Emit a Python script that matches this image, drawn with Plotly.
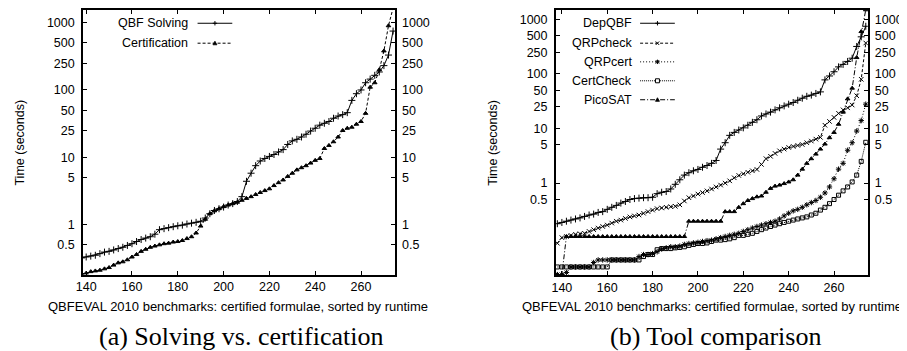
import plotly.graph_objects as go

# ---------------- data ----------------
x_bench = [138, 140, 142, 144, 146, 148, 150, 152, 154, 156,
           158, 160, 162, 164, 166, 168, 170, 172, 174, 176,
           178, 180, 182, 184, 186, 188, 190, 192, 194, 196,
           198, 200, 202, 204, 206, 208, 210, 212, 214, 216,
           218, 220, 222, 224, 226, 228, 230, 232, 234, 236,
           238, 240, 242, 244, 246, 248, 250, 252, 254, 256,
           258, 260, 262, 264, 266, 268, 270, 272, 274]

qbf_solving = [0.32, 0.33, 0.34, 0.35, 0.37, 0.39, 0.40, 0.42, 0.44, 0.46,
               0.49, 0.52, 0.56, 0.60, 0.63, 0.66, 0.72, 0.84, 0.87, 0.90,
               0.93, 0.96, 0.98, 1.02, 1.05, 1.08, 1.12, 1.25, 1.45, 1.62,
               1.72, 1.82, 1.95, 2.05, 2.2, 2.6, 4.4, 5.8, 7.5, 8.8,
               9.6, 10.3, 11.0, 12.0, 13.0, 15.5, 17.5, 18.5, 20, 22,
               24.5, 27, 30, 32, 34, 38, 41, 43, 46, 70,
               88, 100, 128, 145, 165, 185, 230, 330, 750]

certification = [0.185, 0.19, 0.20, 0.205, 0.21, 0.22, 0.23, 0.25, 0.27, 0.28,
                 0.30, 0.33, 0.36, 0.40, 0.43, 0.46, 0.48, 0.50, 0.52, 0.53,
                 0.55, 0.56, 0.58, 0.62, 0.66, 0.75, 0.95, 1.2, 1.45, 1.6,
                 1.72, 1.85, 1.95, 2.05, 2.15, 2.3, 2.45, 2.6, 2.8, 3.0,
                 3.2, 3.4, 3.8, 4.2, 4.6, 5.2, 5.8, 6.5, 7.0, 7.5,
                 8.2, 9.0, 9.6, 13.5, 15, 17, 20, 25, 27, 28,
                 31, 34, 45, 110, 128, 200, 380, 900, 1650]

depqbf = [0.18, 0.19, 0.20, 0.21, 0.22, 0.23, 0.245, 0.26, 0.27, 0.29,
          0.30, 0.33, 0.36, 0.39, 0.43, 0.46, 0.50, 0.52, 0.53, 0.54,
          0.54, 0.55, 0.64, 0.68, 0.70, 0.78, 0.95, 1.15, 1.40, 1.55,
          1.68, 1.78, 1.95, 2.1, 2.3, 2.6, 4.2, 5.5, 7.5, 8.5,
          9.4, 10.3, 11.5, 13, 14.5, 17, 18.5, 20, 22, 24,
          26, 28, 30, 33, 36, 39, 41, 44, 47, 78,
          92, 110, 135, 150, 170, 195, 320, 480, 750]

qrpcheck = [0.079, 0.10, 0.105, 0.11, 0.115, 0.118, 0.12, 0.13, 0.14, 0.15,
            0.16, 0.17, 0.185, 0.20, 0.21, 0.225, 0.24, 0.25, 0.26, 0.28,
            0.30, 0.32, 0.34, 0.35, 0.36, 0.37, 0.375, 0.40, 0.47, 0.54,
            0.58, 0.63, 0.67, 0.72, 0.78, 0.85, 0.92, 1.0, 1.1, 1.25,
            1.38, 1.48, 1.58, 1.68, 1.78, 2.2, 2.8, 3.1, 3.5, 3.9,
            4.2, 4.5, 4.7, 4.9, 5.1, 5.5, 5.9, 6.4, 6.9, 11.5,
            13.5, 16, 19, 22, 24, 27, 40, 80, 370]

qrpcert = [0.021, 0.021, 0.023, 0.029, 0.029, 0.029, 0.029, 0.029, 0.035, 0.039,
           0.039, 0.039, 0.039, 0.039, 0.039, 0.039, 0.039, 0.039, 0.045, 0.049,
           0.049, 0.051, 0.055, 0.062, 0.065, 0.068, 0.068, 0.07, 0.075, 0.078,
           0.08, 0.082, 0.085, 0.088, 0.09, 0.095, 0.10, 0.105, 0.11, 0.115,
           0.12, 0.13, 0.14, 0.15, 0.16, 0.17, 0.18, 0.19, 0.20, 0.22,
           0.25, 0.28, 0.31, 0.33, 0.36, 0.40, 0.44, 0.48, 0.55, 0.66,
           0.85, 1.2, 1.8, 2.3, 4.0, 5.5, 9, 14, 28]

certcheck = [0.029, 0.029, 0.029, 0.029, 0.029, 0.029, 0.029, 0.029, 0.029, 0.029,
             0.029, 0.029, 0.039, 0.039, 0.039, 0.039, 0.039, 0.039, 0.039, 0.045,
             0.049, 0.049, 0.060, 0.063, 0.063, 0.063, 0.065, 0.066, 0.068, 0.072,
             0.075, 0.078, 0.078, 0.08, 0.085, 0.09, 0.09, 0.092, 0.095, 0.10,
             0.11, 0.11, 0.115, 0.12, 0.13, 0.14, 0.15, 0.16, 0.17, 0.18,
             0.19, 0.20, 0.21, 0.22, 0.23, 0.24, 0.26, 0.28, 0.32, 0.36,
             0.42, 0.50, 0.60, 0.72, 0.85, 1.05, 1.4, 2.5, 5.6]

picosat = [0.021, 0.021, 0.105, 0.105, 0.105, 0.105, 0.105, 0.105, 0.105, 0.105,
           0.105, 0.105, 0.105, 0.105, 0.105, 0.105, 0.105, 0.105, 0.105, 0.105,
           0.105, 0.105, 0.105, 0.105, 0.105, 0.105, 0.105, 0.105, 0.105, 0.20,
           0.20, 0.20, 0.20, 0.20, 0.20, 0.20, 0.20, 0.30, 0.30, 0.30,
           0.36, 0.42, 0.48, 0.52, 0.56, 0.58, 0.68, 0.80, 0.88, 0.92,
           0.98, 1.05, 1.15, 1.40, 1.8, 2.3, 2.8, 3.4, 4.2, 5.2,
           6.8, 8.5, 12, 20, 35, 55, 200, 600, 1500]

y_tickvals = [0.5, 1, 5, 10, 25, 50, 100, 250, 500, 1000]
y_ticktext = ["0.5", "1", "5", "10", "25", "50", "100", "250", "500", "1000"]
x_tickvals = [140, 160, 180, 200, 220, 240, 260]

x_title = "QBFEVAL 2010 benchmarks: certified formulae, sorted by runtime"
y_title = "Time (seconds)"
captions = ["(a) Solving vs. certification", "(b) Tool comparison"]

# ---------------- layout helpers ----------------
# the page body has an 8px margin, so the figure is drawn 8px in from the window corner
OFF = 8
W, H = 907 - OFF, 351 - OFF
def px(v): return min(1.0, max(0.0, (v - OFF) / W))
def py(v): return min(1.0, max(0.0, 1 - (v - OFF) / H))

FONT = "Liberation Sans, Arial, sans-serif"
SERIF = "Liberation Serif, Times New Roman, serif"
FS = 12.5

styles = {
    "QBF Solving":   dict(dash="solid", symbol="cross-thin", size=5),
    "Certification": dict(dash="3px,2px", symbol="triangle-up", size=4),
    "DepQBF":        dict(dash="solid", symbol="cross-thin", size=5),
    "QRPcheck":      dict(dash="3px,2px", symbol="x-thin", size=4.5),
    "QRPcert":       dict(dash="1px,2px", symbol="asterisk", size=4.5),
    "CertCheck":     dict(dash="1px,1px", symbol="square-open", size=4),
    "PicoSAT":       dict(dash="5px,2px,1px,2px", symbol="triangle-up", size=4),
}

fig = go.Figure()

def add(name, xs, ys, xa, ya):
    s = styles[name]
    fig.add_trace(go.Scatter(
        x=xs, y=ys, name=name, xaxis=xa, yaxis=ya, mode="lines+markers",
        line=dict(color="black", width=1, dash=s["dash"]),
        marker=dict(symbol=s["symbol"], size=s["size"], color="black",
                    line=dict(width=1, color="black")),
        showlegend=False))

add("QBF Solving", x_bench, qbf_solving, "x", "y")
add("Certification", x_bench, certification, "x", "y")
add("CertCheck", x_bench, certcheck, "x2", "y2")
add("QRPcert", x_bench, qrpcert, "x2", "y2")
add("PicoSAT", x_bench, picosat, "x2", "y2")
add("QRPcheck", x_bench, qrpcheck, "x2", "y2")
add("DepQBF", x_bench, depqbf, "x2", "y2")
# empty traces so the mirrored right-hand label axes are rendered
fig.add_trace(go.Scatter(x=[None], y=[None], xaxis="x", yaxis="y3", showlegend=False))
fig.add_trace(go.Scatter(x=[None], y=[None], xaxis="x2", yaxis="y4", showlegend=False))

# frame edges in window pixels; log ranges keep the tick rows where the reference has them
L = dict(x0=76.5, x1=391, y0=8.8, y1=274.3, xr=[138.6, 274.85], yr=[-0.742, 3.191])
R = dict(x0=553, x1=867.5, y0=8.8, y1=275, xr=[137.3, 274.9], yr=[-1.689, 3.177])

def xax(P, anchor):
    return dict(domain=[px(P["x0"]), px(P["x1"])], range=P["xr"], anchor=anchor,
                tickvals=x_tickvals, ticks="inside", ticklen=4, tickcolor="black",
                mirror="ticks", showline=True, linewidth=1.5, linecolor="black",
                showgrid=False, zeroline=False,
                tickfont=dict(family=FONT, size=FS, color="black"))

def yax(P, anchor):
    return dict(domain=[py(P["y1"]), py(P["y0"])], type="log", range=P["yr"], anchor=anchor,
                tickvals=y_tickvals, ticktext=y_ticktext, ticks="inside", ticklen=4,
                tickcolor="black", mirror="ticks", showline=True, linewidth=1.5,
                linecolor="black", showgrid=False, zeroline=False, ticklabelstandoff=4,
                tickfont=dict(family=FONT, size=FS, color="black"))

def yax_right(P, anchor, over):
    return dict(overlaying=over, side="right", anchor=anchor, type="log", range=P["yr"],
                tickvals=y_tickvals, ticktext=y_ticktext, ticks="", showline=False,
                showgrid=False, zeroline=False, ticklabelstandoff=6,
                tickfont=dict(family=FONT, size=FS, color="black"))

fig.update_layout(
    width=W, height=H, margin=dict(l=0, r=0, t=0, b=0),
    paper_bgcolor="white", plot_bgcolor="white", showlegend=False,
    xaxis=xax(L, "y"), yaxis=yax(L, "x"), yaxis3=yax_right(L, "x", "y"),
    xaxis2=xax(R, "y2"), yaxis2=yax(R, "x2"), yaxis4=yax_right(R, "x2", "y2"),
)

annotations = []
shapes = []

def text(t, x, y, size=FS, family=FONT, angle=0, xanchor="center"):
    annotations.append(dict(text=t, x=px(x), y=py(y), xref="paper", yref="paper",
                            showarrow=False, xanchor=xanchor, yanchor="middle",
                            textangle=angle, font=dict(family=family, size=size, color="black")))

# axis titles and captions
text(y_title, 13, 142, angle=-90)
text(y_title, 489, 142, angle=-90)
text(x_title, 233, 306, size=13)
text(x_title, 710, 306, size=13)
text(captions[0], 236, 336.5, size=26, family=SERIF)
text(captions[1], 714.5, 336.5, size=26, family=SERIF)

def seg(x0, y0, x1, y1, dash="solid", w=1):
    shapes.append(dict(type="line", xref="paper", yref="paper", x0=px(x0), y0=py(y0),
                       x1=px(x1), y1=py(y1), line=dict(color="black", width=w, dash=dash)))

def glyph(sym, cx, cy, r=2.2):
    if sym in ("cross-thin", "asterisk"):
        seg(cx - r, cy, cx + r, cy); seg(cx, cy - r, cx, cy + r)
    if sym in ("x-thin", "asterisk"):
        seg(cx - r * 0.8, cy - r * 0.8, cx + r * 0.8, cy + r * 0.8)
        seg(cx - r * 0.8, cy + r * 0.8, cx + r * 0.8, cy - r * 0.8)
    if sym == "square-open":
        shapes.append(dict(type="rect", xref="paper", yref="paper",
                           x0=px(cx - 2), x1=px(cx + 2), y0=py(cy - 2), y1=py(cy + 2),
                           line=dict(color="black", width=1), fillcolor="white"))
    if sym == "triangle-up":
        path = "M{},{} L{},{} L{},{} Z".format(px(cx - 2), py(cy + 1.6), px(cx + 2), py(cy + 1.6),
                                               px(cx), py(cy - 2))
        shapes.append(dict(type="path", xref="paper", yref="paper", path=path,
                           line=dict(color="black", width=0.8), fillcolor="black"))

def legend_entry(name, y, xtext, lx0, lx1):
    s = styles[name]
    text(name, xtext, y, xanchor="right")
    seg(lx0, y, lx1, y, dash=s["dash"])
    glyph(s["symbol"], (lx0 + lx1) / 2, y)

legend_entry("QBF Solving", 22.3, 184, 192, 227)
legend_entry("Certification", 42.3, 184, 192, 227)
for name, yy in [("DepQBF", 22.3), ("QRPcheck", 42.3), ("QRPcert", 61),
                 ("CertCheck", 80), ("PicoSAT", 99)]:
    legend_entry(name, yy, 632, 638, 673)

fig.update_layout(annotations=annotations, shapes=shapes)
fig.write_html("out.html")
